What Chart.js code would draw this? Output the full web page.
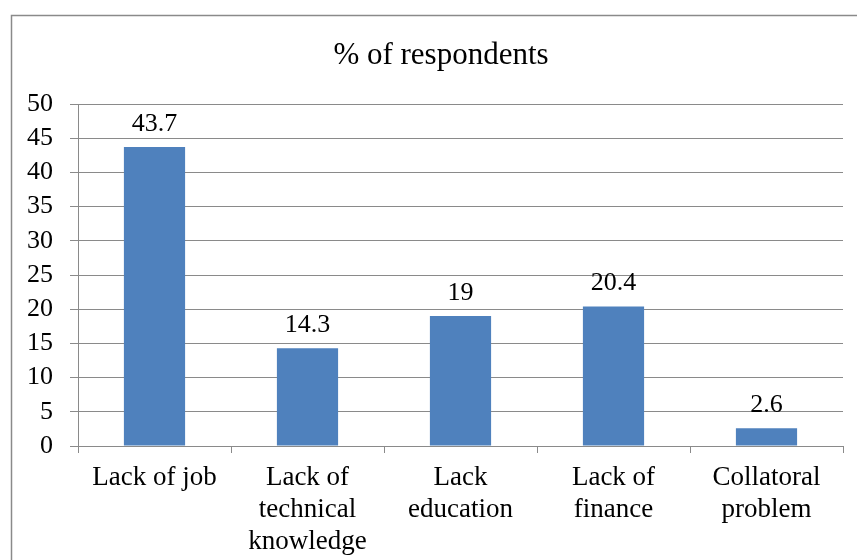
<!DOCTYPE html>
<html>
<head>
<meta charset="utf-8">
<title>% of respondents</title>
<script src="https://cdn.jsdelivr.net/npm/chart.js@4/dist/chart.umd.min.js"></script>
<style>
  html, body { margin: 0; padding: 0; background: #fff; }
  #wrap { width: 857px; height: 560px; }
</style>
</head>
<body>
<div id="wrap"><canvas id="barChart"></canvas></div>
<script>
// Problems reported by respondents
const chartTitle = '% of respondents';
const categories = [
  'Lack of job',
  ['Lack of', 'technical', 'knowledge'],
  ['Lack', 'education'],
  ['Lack of', 'finance'],
  ['Collatoral', 'problem']
];
const percentValues = [43.7, 14.3, 19, 20.4, 2.6];
const yTicks = [0, 5, 10, 15, 20, 25, 30, 35, 40, 45, 50];

const serif = "'Liberation Serif', 'Times New Roman', serif";
const gridGray = '#8a8a8a';

// frame around the whole chart, plus the heading centred in that frame
const frame = {
  id: 'frame',
  beforeDraw(chart) {
    const c = chart.ctx;
    c.save();
    c.strokeStyle = gridGray;
    c.lineWidth = 1.5;
    c.strokeRect(11.5, 15.5, 900, 600);
    c.font = '31px ' + serif;
    c.fillStyle = '#000';
    c.textAlign = 'center';
    c.textBaseline = 'alphabetic';
    c.fillText(chartTitle, 441, 64);
    c.restore();
  }
};

// value printed above each bar
const valueLabels = {
  id: 'valueLabels',
  afterDatasetsDraw(chart) {
    const c = chart.ctx;
    const meta = chart.getDatasetMeta(0);
    c.save();
    c.font = '26px ' + serif;
    c.fillStyle = '#000';
    c.textAlign = 'center';
    c.textBaseline = 'alphabetic';
    meta.data.forEach((bar, i) => {
      c.fillText(String(percentValues[i]), bar.x, bar.y - 16);
    });
    c.restore();
  }
};

const barCtx = document.getElementById('barChart');
new Chart(barCtx, {
  type: 'bar',
  data: {
    labels: categories,
    datasets: [{
      label: chartTitle,
      data: percentValues,
      backgroundColor: '#4F81BD',
      barPercentage: 0.4,
      categoryPercentage: 1
    }]
  },
  options: {
    responsive: true,
    maintainAspectRatio: false,
    animation: false,
    layout: { padding: { left: 0, right: 14, top: 104, bottom: 0 } },
    plugins: {
      legend: { display: false },
      tooltip: { enabled: false },
      title: { display: false }
    },
    scales: {
      x: {
        offset: true,
        grid: {
          display: true,
          offset: true,
          drawOnChartArea: false,
          drawTicks: true,
          tickLength: 7,
          color: gridGray
        },
        border: { display: true, color: gridGray },
        ticks: {
          color: '#000',
          padding: 9,
          maxRotation: 0,
          autoSkip: false,
          font: { family: serif, size: 27, lineHeight: 1.19 }
        },
        afterFit(scale) { scale.height = 114; }
      },
      y: {
        min: 0,
        max: 50,
        afterBuildTicks(scale) { scale.ticks = yTicks.map(v => ({ value: v })); },
        grid: { color: gridGray, tickLength: 8 },
        border: { display: true, color: gridGray },
        ticks: {
          color: '#000',
          padding: 17,
          autoSkip: false,
          font: { family: serif, size: 26 }
        },
        afterFit(scale) { scale.width = 78; }
      }
    }
  },
  plugins: [frame, valueLabels]
});
</script>
</body>
</html>
